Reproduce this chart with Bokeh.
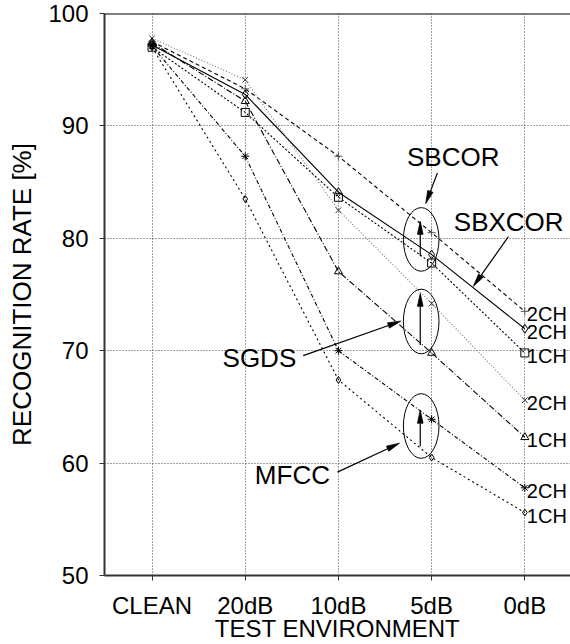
import math
from bokeh.plotting import figure
from bokeh.models import FixedTicker, Span, Label, Range1d, ColumnDataSource
from bokeh.embed import file_html
from bokeh.resources import INLINE
from bokeh.core.properties import value

# ---------------- data ----------------
categories = ["CLEAN", "20dB", "10dB", "5dB", "0dB"]
y_ticks = [50, 60, 70, 80, 90, 100]

sbcor_2ch = [97.5, 93.3, 87.3, 80.5, 73.5]      # "+"  dashed
sbxcor_2ch = [97.2, 92.8, 84.1, 78.55, 71.95]   # diamond, solid
sbcor_1ch = [97.0, 91.2, 83.65, 77.8, 69.8]     # square, dotted
sgds_2ch = [97.8, 94.1, 82.5, 74.2, 65.6]       # x, gray dotted
sgds_1ch = [97.4, 92.2, 77.05, 69.8, 62.3]      # triangle, dash-dot
mfcc_2ch = [97.1, 87.3, 70.0, 63.9, 57.8]       # asterisk, dash-dot
mfcc_1ch = [97.0, 83.5, 67.4, 60.5, 55.6]       # small diamond, dotted

series_values = [sbcor_2ch, sbxcor_2ch, sbcor_1ch, sgds_2ch, sgds_1ch, mfcc_2ch, mfcc_1ch]
end_labels = ["2CH", "2CH", "1CH", "2CH", "1CH", "2CH", "1CH"]

x_title = "TEST ENVIRONMENT"
y_title = "RECOGNITION RATE [%]"

# styles (not data)
styles = [
    dict(marker="cross", size=8, line_dash="4 3", line_color="black", mcolor="#555555"),
    dict(marker="diamond", size=9, line_dash="solid", line_color="black", mcolor="black"),
    dict(marker="square", size=8, line_dash="2 2", line_color="black", mcolor="black"),
    dict(marker="x", size=8, line_dash="1 2", line_color="#777777", mcolor="#333333"),
    dict(marker="triangle", size=8, line_dash="6 2 1 2", line_color="black", mcolor="black"),
    dict(marker="asterisk", size=8, line_dash="4 2 1 2", line_color="black", mcolor="black"),
    dict(marker="diamond", size=7, line_dash="2 3", line_color="black", mcolor="black"),
]

FONT = "Liberation Sans"
X0, X1, Y0, Y1 = -0.51, 4.49, 50, 100
FRAME_W, FRAME_H = 466, 565

p = figure(width=570, height=644, output_backend="svg", toolbar_location=None,
           x_range=Range1d(X0, X1), y_range=Range1d(Y0, Y1),
           min_border_left=104, min_border_right=0, min_border_top=13, min_border_bottom=60)
p.outline_line_color = None
p.background_fill_color = "white"
p.border_fill_color = "white"

xs = list(range(len(categories)))

for vals, st in zip(series_values, styles):
    p.line(xs, vals, line_color=st["line_color"], line_width=1.1, line_dash=st["line_dash"])
    p.scatter(xs, vals, marker=st["marker"], size=st["size"], line_color=st["mcolor"],
              fill_color=None, line_width=1)

# end labels at 0dB
last = [v[-1] for v in series_values]
src = ColumnDataSource(dict(x=[xs[-1]] * len(last), y=last, t=end_labels))
p.text(x="x", y="y", text="t", source=src, x_offset=2, y_offset=3,
       text_font=value(FONT), text_font_size="20px", text_baseline="middle",
       text_align="left", text_color="black")

# axes
p.xaxis.ticker = FixedTicker(ticks=xs)
p.xaxis.major_label_overrides = {i: c for i, c in enumerate(categories)}
p.yaxis.ticker = FixedTicker(ticks=y_ticks)
for ax in (p.xaxis[0], p.yaxis[0]):
    ax.axis_line_color = "#333333"
    ax.axis_line_width = 2
    ax.major_tick_line_color = "#333333"
    ax.major_tick_line_width = 1
    ax.major_tick_in = 0
    ax.major_tick_out = 5
    ax.minor_tick_line_color = None
    ax.major_label_text_font = FONT
    ax.major_label_text_font_size = "24px"
    ax.major_label_text_color = "black"
    ax.axis_label_text_font = FONT
    ax.axis_label_text_font_style = "normal"
    ax.axis_label_text_color = "black"

p.xaxis.axis_label = x_title
p.yaxis.axis_label = y_title
p.xaxis.axis_label_text_font_size = "24px"
p.yaxis.axis_label_text_font_size = "26px"
p.xaxis.major_label_standoff = 11
p.xaxis.axis_label_standoff = -7
p.yaxis.major_label_standoff = 11
p.yaxis.axis_label_standoff = 8

p.xgrid.ticker = FixedTicker(ticks=xs)
for g in (p.xgrid[0], p.ygrid[0]):
    g.grid_line_color = "#444444"
    g.grid_line_dash = "1 2"
    g.grid_line_width = 1

p.add_layout(Span(location=100, dimension="width", line_color="black", line_width=2))

# annotations: ellipses at 5dB
ell_x = [2.888, 2.888, 2.888]
ell_y = [79.9, 72.6, 63.3]
ell_h = [5.66, 5.75, 5.75]
p.ellipse(x=ell_x, y=ell_y, width=0.382, height=ell_h, fill_color=None,
          line_color="black", line_width=1)

# arrows (shaft + narrow filled head), coordinates in data units
arrows = [
    (2.878, 78.4, 2.878, 81.5),
    (2.878, 70.5, 2.878, 75.1),
    (2.878, 61.5, 2.878, 64.7),
    (3.062, 85.81, 2.937, 83.1),
    (3.824, 80.15, 3.448, 75.73),
    (1.622, 69.56, 2.668, 72.63),
    (1.989, 59.2, 2.654, 61.77),
]
sx = FRAME_W / (X1 - X0)   # px per x unit
sy = FRAME_H / (Y1 - Y0)   # px per y unit
HEAD_L, HEAD_W = 13.0, 2.8
seg_x0, seg_y0, seg_x1, seg_y1, head_xs, head_ys = [], [], [], [], [], []
for ax0, ay0, ax1, ay1 in arrows:
    dx, dy = (ax1 - ax0) * sx, (ay1 - ay0) * sy
    ln = math.hypot(dx, dy)
    ux, uy = dx / ln, dy / ln
    bx, by = ax1 - HEAD_L * ux / sx, ay1 - HEAD_L * uy / sy
    nx, ny = -uy, ux
    seg_x0.append(ax0); seg_y0.append(ay0); seg_x1.append(bx); seg_y1.append(by)
    head_xs.append([ax1, bx + HEAD_W * nx / sx, bx - HEAD_W * nx / sx])
    head_ys.append([ay1, by + HEAD_W * ny / sy, by - HEAD_W * ny / sy])
p.segment(seg_x0, seg_y0, seg_x1, seg_y1, line_color="black", line_width=1.2)
p.patches(head_xs, head_ys, fill_color="black", line_color="black", line_width=0.8)

names = [("SBCOR", 3.232, 87.19), ("SBXCOR", 3.827, 81.42), ("SGDS", 1.152, 69.38), ("MFCC", 1.506, 58.96)]
for t, x, y in names:
    p.add_layout(Label(x=x, y=y, text=t, text_font=FONT, text_font_size="26px",
                       text_align="center", text_baseline="middle", text_color="black"))

open("out.html", "w").write(file_html(p, INLINE))
